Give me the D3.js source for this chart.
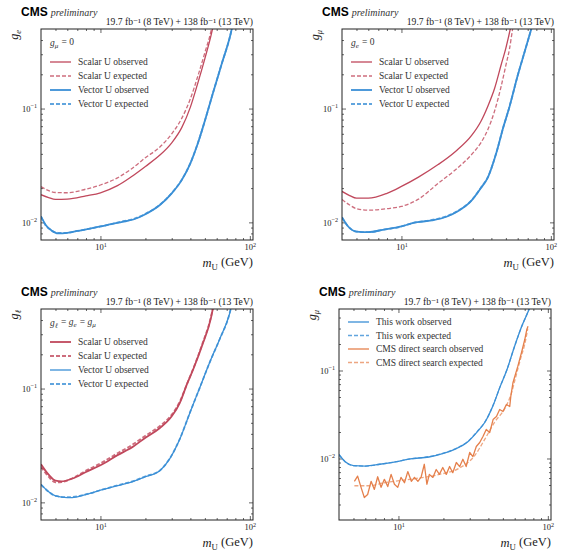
<!DOCTYPE html>
<html>
<head>
<meta charset="utf-8">
<script src="https://cdn.jsdelivr.net/npm/d3@7"></script>
<style>
  body { margin: 0; background: #fff; }
  svg { display: block; }
</style>
</head>
<body>
<svg id="chart" width="580" height="557"></svg>
<script>
// ---- data: [mass (GeV), coupling limit] ----
const massDomain = [4, 105];
const massTicks = [10, 100];
const lumiText = "19.7 fb\u207B\u00B9 (8 TeV) + 138 fb\u207B\u00B9 (13 TeV)";

// top left: g_e, g_mu = 0
const p1ScalarObs = [[4,0.0175],[4.5,0.0165],[5,0.0159],[6,0.016],[8,0.0171],[10,0.0182],[13,0.021],[16,0.025],[20,0.031],[25,0.039],[30,0.05],[35,0.068],[40,0.103],[45,0.17],[50,0.275],[55,0.44],[58,0.6]];
const p1ScalarExp = [[4,0.0206],[4.5,0.019],[5,0.0183],[6,0.0182],[8,0.0196],[10,0.0213],[13,0.0246],[16,0.0293],[20,0.037],[25,0.046],[30,0.06],[35,0.082],[40,0.122],[45,0.195],[50,0.31],[55,0.48],[57,0.6]];
const p1VectorObs = [[4,0.0113],[4.3,0.0095],[4.7,0.0085],[5.2,0.008],[6,0.0081],[7,0.0084],[8.5,0.0088],[10,0.0092],[12,0.0097],[14,0.0101],[16.6,0.0106],[20,0.0118],[25,0.0142],[30,0.018],[35,0.0235],[40,0.033],[45,0.05],[50,0.078],[56,0.13],[65,0.25],[74,0.44],[78,0.6]];
const p1VectorExp = [[4,0.0112],[4.3,0.0094],[4.7,0.0085],[5.2,0.0081],[6,0.0081],[7,0.0084],[8.5,0.0088],[10,0.0092],[12,0.0097],[14,0.0102],[16.6,0.0107],[20,0.0119],[25,0.0143],[30,0.0181],[35,0.0237],[40,0.0332],[45,0.0502],[50,0.078],[56,0.13],[65,0.25],[74,0.44],[78,0.6]];

// top right: g_mu, g_e = 0
const p2ScalarObs = [[4,0.0187],[4.5,0.0172],[5,0.0163],[6,0.0163],[8,0.018],[10,0.0207],[13,0.025],[17.6,0.0322],[23,0.042],[29.5,0.058],[34,0.077],[38,0.106],[42,0.15],[46.4,0.24],[50,0.34],[53.5,0.5],[55,0.6]];
const p2ScalarExp = [[4,0.0159],[4.5,0.0142],[5,0.0132],[6,0.0128],[8,0.0132],[10,0.0138],[13,0.016],[17.6,0.022],[23,0.029],[29.5,0.0395],[34,0.05],[38,0.066],[42,0.095],[46.4,0.155],[50,0.24],[53,0.34],[55.5,0.5],[57,0.6]];
const p2VectorObs = [[4,0.0111],[4.4,0.0092],[5,0.0083],[6,0.0082],[7.5,0.0086],[10,0.0092],[12,0.0099],[16,0.0104],[20,0.0112],[24,0.0126],[29,0.0152],[34,0.02],[38,0.025],[43,0.04],[48,0.068],[53,0.105],[60,0.195],[67,0.32],[74,0.5],[77,0.6]];
const p2VectorExp = [[4,0.011],[4.4,0.0092],[5,0.0083],[6,0.0082],[7.5,0.0086],[10,0.0092],[12,0.0099],[16,0.0105],[20,0.0113],[24,0.0127],[29,0.0153],[34,0.0201],[38,0.0252],[43,0.0402],[48,0.068],[53,0.105],[60,0.195],[67,0.32],[74,0.5],[77,0.6]];

// bottom left: g_l, lepton universal
const p3ScalarObs = [[4,0.0216],[4.5,0.0175],[5,0.0155],[5.5,0.0153],[6.5,0.0162],[8,0.0185],[10,0.0212],[13,0.026],[16.6,0.031],[20,0.037],[25,0.045],[30,0.057],[34,0.075],[38,0.11],[42,0.15],[48,0.24],[55,0.42],[58,0.6]];
const p3ScalarExp = [[4,0.0205],[4.5,0.0168],[5,0.015],[5.5,0.0151],[6.5,0.0163],[8,0.019],[10,0.022],[13,0.027],[16.6,0.0325],[20,0.0385],[25,0.047],[30,0.059],[34,0.077],[38,0.11],[42,0.152],[48,0.245],[55,0.43],[58,0.6]];
const p3VectorObs = [[4,0.0144],[4.5,0.0124],[5,0.0114],[6,0.011],[7,0.0112],[8.5,0.012],[10,0.0128],[13,0.014],[16.6,0.0153],[20,0.0168],[25,0.019],[29,0.024],[34,0.036],[40,0.063],[46,0.1],[54,0.171],[63,0.274],[73,0.45],[77,0.6]];
const p3VectorExp = [[4,0.0143],[4.5,0.0124],[5,0.0114],[6,0.0111],[7,0.0113],[8.5,0.012],[10,0.0128],[13,0.0141],[16.6,0.0154],[20,0.0169],[25,0.0191],[29,0.0241],[34,0.0362],[40,0.063],[46,0.1],[54,0.171],[63,0.274],[73,0.45],[77,0.6]];

// bottom right: g_mu, comparison with the direct search
const p4WorkObs = [[4,0.0111],[4.4,0.0092],[5,0.0083],[6,0.0082],[7.5,0.0086],[10,0.0093],[12,0.0099],[16,0.0104],[20,0.0114],[24,0.0128],[29,0.0154],[34,0.0205],[38,0.026],[43,0.04],[48,0.066],[53,0.1],[60,0.19],[67,0.32],[75,0.5],[78,0.6]];
const p4WorkExp = [[4,0.011],[4.4,0.0092],[5,0.0083],[6,0.0082],[7.5,0.0086],[10,0.0093],[12,0.0099],[16,0.0105],[20,0.0115],[24,0.0129],[29,0.0155],[34,0.0207],[38,0.0262],[43,0.0402],[48,0.066],[53,0.1],[60,0.19],[67,0.32],[75,0.5],[78,0.6]];
const p4DirectObs = [[5.07,0.0055],[5.33,0.0063],[5.62,0.0047],[5.91,0.0036],[6.22,0.0039],[6.56,0.0055],[6.9,0.00445],[7.26,0.0062],[7.65,0.0047],[8.05,0.0058],[8.48,0.0048],[8.93,0.0066],[9.4,0.0051],[9.89,0.0047],[10.4,0.0061],[10.97,0.0053],[11.55,0.0071],[12.2,0.0055],[12.8,0.0061],[13.5,0.0055],[14.2,0.0062],[14.9,0.0086],[15.5,0.0051],[16.1,0.0066],[17,0.0061],[17.9,0.0075],[18.8,0.0066],[19.8,0.0079],[20.9,0.0066],[22,0.0081],[23.1,0.0069],[24.4,0.009],[25.7,0.0081],[27,0.0098],[28.4,0.0081],[30,0.0117],[31.5,0.0105],[33.2,0.0137],[35,0.0152],[36.8,0.0178],[38.7,0.0214],[40.8,0.0197],[43,0.0277],[45.3,0.03],[47.6,0.036],[50.1,0.0342],[52.8,0.0411],[55.6,0.039],[56.5,0.0507],[58.4,0.0725],[63,0.112],[66.6,0.159],[70.1,0.225],[72.3,0.292],[73.7,0.318]];
const p4DirectExp = [[5.07,0.0049],[6.4,0.0049],[8.05,0.0053],[10.15,0.0056],[13.8,0.006],[18.8,0.0066],[25.7,0.0078],[32.4,0.0108],[37.8,0.0165],[44.1,0.026],[51.5,0.037],[57,0.055],[61,0.085],[66,0.14],[70.1,0.2],[73.4,0.3]];

const colRed = "#c0485c";
const colBlue = "#3a8fd6";
const colOrange = "#e5804c";
const serif = "'Liberation Serif', 'DejaVu Serif', serif";

const panels = [
  { x: 41, y: 29, yDomain: [0.007, 0.5], ylab: ["g", "e"], title: [["g", "\u03BC"], " = 0"],
    series: [
      { data: p1ScalarObs, color: colRed, width: 1.3, label: "Scalar U observed" },
      { data: p1ScalarExp, color: colRed, width: 1.3, dash: "4,2", opacity: 0.8, label: "Scalar U expected" },
      { data: p1VectorObs, color: colBlue, width: 1.8, label: "Vector U observed" },
      { data: p1VectorExp, color: colBlue, width: 1.8, dash: "4,2", opacity: 0.8, label: "Vector U expected" } ] },
  { x: 342, y: 29, yDomain: [0.007, 0.5], ylab: ["g", "\u03BC"], title: [["g", "e"], " = 0"],
    series: [
      { data: p2ScalarObs, color: colRed, width: 1.3, label: "Scalar U observed" },
      { data: p2ScalarExp, color: colRed, width: 1.3, dash: "4,2", opacity: 0.8, label: "Scalar U expected" },
      { data: p2VectorObs, color: colBlue, width: 1.8, label: "Vector U observed" },
      { data: p2VectorExp, color: colBlue, width: 1.8, dash: "4,2", opacity: 0.8, label: "Vector U expected" } ] },
  { x: 41, y: 309, yDomain: [0.007, 0.5], ylab: ["g", "\u2113"], title: [["g", "\u2113"], " = ", ["g", "e"], " = ", ["g", "\u03BC"]],
    series: [
      { data: p3ScalarObs, color: colRed, width: 1.8, label: "Scalar U observed" },
      { data: p3ScalarExp, color: colRed, width: 1.8, dash: "4,2", opacity: 0.8, label: "Scalar U expected" },
      { data: p3VectorObs, color: colBlue, width: 1.3, label: "Vector U observed" },
      { data: p3VectorExp, color: colBlue, width: 1.8, dash: "4,2", opacity: 0.8, label: "Vector U expected" } ] },
  { x: 339, y: 309, yDomain: [0.002, 0.5], ylab: ["g", "\u03BC"], title: null,
    series: [
      { data: p4WorkObs, color: colBlue, width: 1.3, label: "This work observed" },
      { data: p4WorkExp, color: colBlue, width: 1.3, dash: "4,2", opacity: 0.8, label: "This work expected" },
      { data: p4DirectObs, color: colOrange, width: 1.3, label: "CMS direct search observed", linear: true },
      { data: p4DirectExp, color: colOrange, width: 1.3, dash: "4,2", opacity: 0.7, label: "CMS direct search expected" } ] }
];

const W = 212, H = 211;
const svg = d3.select("#chart");

function minorTicks(domain) {
  const out = [];
  for (let e = -4; e <= 3; e++) {
    for (let k = 2; k <= 9; k++) {
      const v = k * Math.pow(10, e);
      if (v > domain[0] && v < domain[1]) out.push(v);
    }
  }
  return out;
}

function powLabel(sel) {
  sel.selectAll(".tick text").each(function (d) {
    const t = d3.select(this);
    const e = Math.round(Math.log10(d));
    t.text("10");
    t.append("tspan").attr("dy", "-0.55em").attr("font-size", "0.72em")
      .text(e < 0 ? "\u2212" + (-e) : e);
  });
}

function subText(t, parts, subSize) {
  // parts: plain strings or [base, subscript]
  parts.forEach(p => {
    if (typeof p === "string") {
      t.append("tspan").attr("font-style", "normal").text(p);
    } else {
      t.append("tspan").attr("font-style", "italic").text(p[0]);
      t.append("tspan").attr("dy", "0.3em").attr("font-size", subSize).attr("font-style", "italic").text(p[1]);
      t.append("tspan").attr("dy", "-0.3em").text("\u200A");
    }
  });
}

panels.forEach((p, i) => {
  const g = svg.append("g").attr("transform", "translate(" + p.x + "," + p.y + ")");
  const x = d3.scaleLog().domain(massDomain).range([0, W]);
  const y = d3.scaleLog().domain(p.yDomain).range([H, 0]);

  g.append("clipPath").attr("id", "clip" + i)
    .append("rect").attr("width", W).attr("height", H);

  // axes with inward ticks on all four sides
  const yMajor = [0.001, 0.01, 0.1].filter(v => v >= p.yDomain[0] && v <= p.yDomain[1]);
  const xMinor = minorTicks(massDomain);
  const yMinor = minorTicks(p.yDomain);

  const bottom = g.append("g").attr("transform", "translate(0," + H + ")")
    .call(d3.axisBottom(x).tickValues(massTicks).tickSize(-4).tickPadding(4));
  powLabel(bottom);
  g.append("g").attr("transform", "translate(0," + H + ")")
    .call(d3.axisBottom(x).tickValues(xMinor).tickSize(-2).tickFormat(""));
  g.append("g").call(d3.axisTop(x).tickValues(massTicks).tickSize(-4).tickFormat(""));
  g.append("g").call(d3.axisTop(x).tickValues(xMinor).tickSize(-2).tickFormat(""));

  const left = g.append("g")
    .call(d3.axisLeft(y).tickValues(yMajor).tickSize(-4).tickPadding(4));
  powLabel(left);
  g.append("g").call(d3.axisLeft(y).tickValues(yMinor).tickSize(-2).tickFormat(""));
  g.append("g").attr("transform", "translate(" + W + ",0)")
    .call(d3.axisRight(y).tickValues(yMajor).tickSize(-4).tickFormat(""));
  g.append("g").attr("transform", "translate(" + W + ",0)")
    .call(d3.axisRight(y).tickValues(yMinor).tickSize(-2).tickFormat(""));

  g.selectAll(".domain").remove();
  g.selectAll(".tick line").attr("stroke", "#222").attr("stroke-width", 0.7);
  g.selectAll(".tick text").attr("font-family", serif).attr("font-size", 8.5).attr("fill", "#222");

  // curves
  const plot = g.append("g").attr("clip-path", "url(#clip" + i + ")");
  p.series.forEach(s => {
    const line = d3.line()
      .x(d => x(d[0]))
      .y(d => y(d[1]))
      .curve(s.linear ? d3.curveLinear : d3.curveMonotoneX);
    plot.append("path")
      .attr("d", line(s.data))
      .attr("fill", "none")
      .attr("stroke", s.color)
      .attr("stroke-width", s.width)
      .attr("stroke-opacity", s.opacity || 1)
      .attr("stroke-dasharray", s.dash || null)
      .attr("stroke-linejoin", "round");
  });

  // frame
  g.append("rect").attr("width", W).attr("height", H)
    .attr("fill", "none").attr("stroke", "#222").attr("stroke-width", 1);

  // legend
  const leg = g.append("g").attr("font-family", serif).attr("font-size", 9.5).attr("fill", "#333");
  let rowY = 13;
  if (p.title) {
    const t = leg.append("text").attr("x", 9).attr("y", 17);
    subText(t, p.title, "0.75em");
    rowY = 33;
  }
  p.series.forEach((s, k) => {
    const yy = rowY + k * (p.title ? 14 : 13.5);
    leg.append("line")
      .attr("x1", 9).attr("x2", 30).attr("y1", yy).attr("y2", yy)
      .attr("stroke", s.color).attr("stroke-width", s.width)
      .attr("stroke-opacity", s.opacity || 1)
      .attr("stroke-dasharray", s.dash || null);
    leg.append("text").attr("x", 37).attr("y", yy + 3).text(s.label);
  });

  // CMS labels
  const head = g.append("text").attr("x", -20).attr("y", -13);
  head.append("tspan").attr("font-family", "'Liberation Sans', Arial, sans-serif")
    .attr("font-weight", "bold").attr("font-size", 12).text("CMS");
  head.append("tspan").attr("font-family", serif).attr("font-style", "italic")
    .attr("font-size", 10).attr("dx", 3).attr("fill", "#333").text("preliminary");

  g.append("text").attr("x", W).attr("y", -4).attr("text-anchor", "end")
    .attr("font-family", serif).attr("font-size", 9.6).attr("fill", "#222").text(lumiText);

  // axis titles
  const yl = g.append("text")
    .attr("transform", "translate(-23,0) rotate(-90)")
    .attr("text-anchor", "end").attr("font-family", serif).attr("font-size", 12).attr("fill", "#222");
  subText(yl, [p.ylab], "0.7em");

  const xl = g.append("text").attr("x", W).attr("y", H + 27).attr("text-anchor", "end")
    .attr("font-family", serif).attr("font-size", 12.5).attr("fill", "#222");
  xl.append("tspan").attr("font-style", "italic").text("m");
  xl.append("tspan").attr("dy", "0.3em").attr("font-size", "0.7em").text("U");
  xl.append("tspan").attr("dy", "-0.3em").text(" (GeV)");
});
</script>
</body>
</html>
